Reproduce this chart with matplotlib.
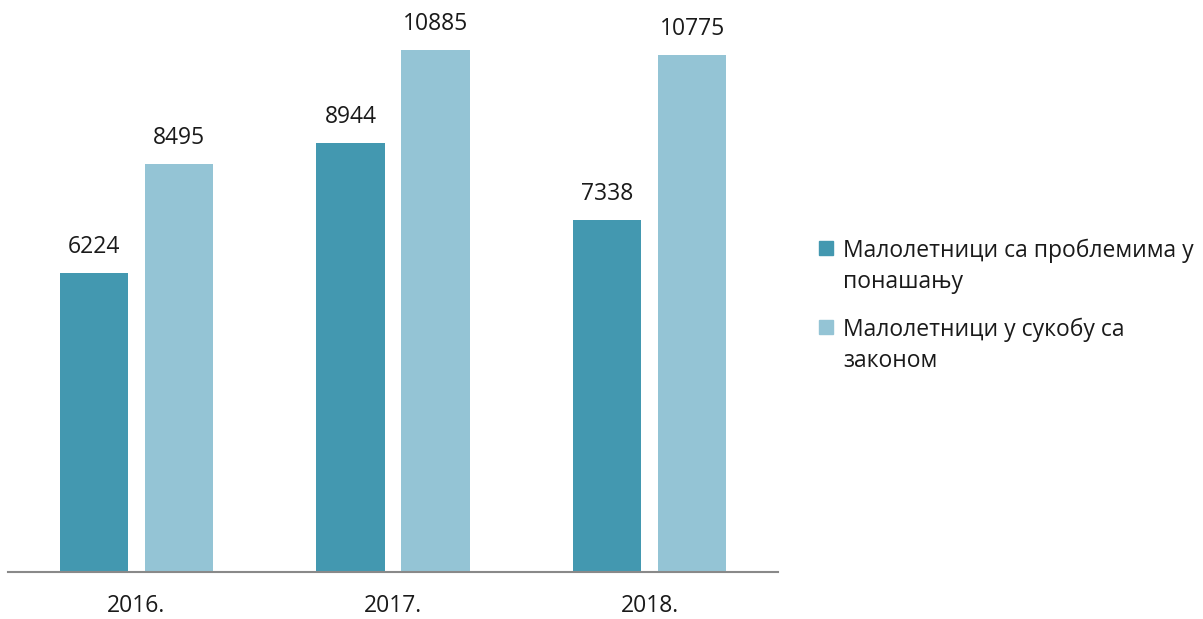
import numpy as np
import matplotlib.pyplot as plt
from matplotlib.patches import Rectangle

years = ['2016.', '2017.', '2018.']
behaviour = [6224, 8944, 7338]
conflict = [8495, 10885, 10775]
labels = [['Малолетници са проблемима у', 'понашању'],
          ['Малолетници у сукобу са', 'законом']]
colors = ['#4398B0', '#94C4D5']

plt.rcParams['font.family'] = ['Open Sans', 'DejaVu Sans']

W, H = 1203, 619
fig = plt.figure(figsize=(W / 100, H / 100), dpi=100)
ax = fig.add_axes([8 / W, 1 - 572 / H, 770 / W, 542 / H])

x = np.arange(len(years))
w = 0.266
off = 0.166
for vals, dx, c in [(behaviour, -off, colors[0]), (conflict, off, colors[1])]:
    bars = ax.bar(x + dx, vals, width=w, color=c)
    for b, v in zip(bars, vals):
        ax.annotate(str(v), (b.get_x() + b.get_width() / 2, v),
                    xytext=(0, 10), textcoords='offset points',
                    ha='center', va='bottom', fontsize=16.5, color='#1a1a1a')

ax.set_xlim(-0.5, 2.5)
ax.set_ylim(0, 11292)
ax.set_xticks(x)
ax.set_xticklabels(years, fontsize=16.5, color='#1a1a1a')
ax.tick_params(axis='x', length=0, pad=16)
ax.set_yticks([])
for s in ['top', 'right', 'left']:
    ax.spines[s].set_visible(False)
ax.spines['bottom'].set_color('#898989')
ax.spines['bottom'].set_linewidth(1.5)

# legend drawn by hand so the swatch sits on the first line
for i, (lines, c) in enumerate(zip(labels, colors)):
    top = 241 + i * 79
    fig.patches.append(Rectangle((819 / W, 1 - (top + 14) / H), 14 / W, 14 / H,
                                 color=c, transform=fig.transFigure))
    for j, line in enumerate(lines):
        fig.text(843 / W, 1 - (top + 16 + j * 31) / H, line, fontsize=16.5,
                 va='baseline', ha='left', color='#1a1a1a')

fig.savefig('out.png', dpi=100)
